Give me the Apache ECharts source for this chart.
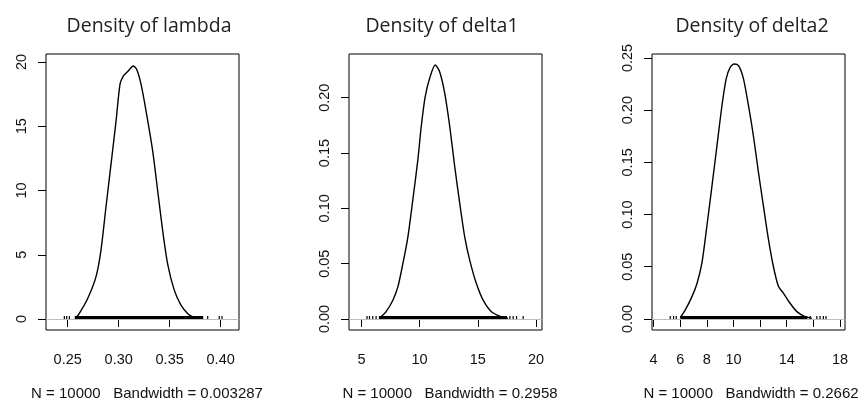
<!DOCTYPE html>
<html>
<head>
<meta charset="utf-8">
<script src="https://cdn.jsdelivr.net/npm/echarts@6/dist/echarts.min.js"></script>
<style>
  html, body { margin: 0; padding: 0; background: #fff; }
  #chart { width: 858px; height: 410px; }
</style>
</head>
<body>
<div id="chart"></div>
<script>
// density curves
const lambdaX = [0.2581, 0.2614, 0.2696, 0.2777, 0.2826, 0.2875, 0.2925, 0.2974, 0.3013, 0.3045, 0.3088, 0.3143, 0.3176, 0.3219, 0.3268, 0.3333, 0.3382, 0.3431, 0.3480, 0.3545, 0.3611, 0.3676, 0.3725, 0.3790];
const lambdaY = [0.1, 0.44, 1.6, 3.28, 5.35, 8.7, 12.07, 15.4, 18.27, 18.9, 19.25, 19.69, 19.43, 18.27, 16.2, 13.1, 10.0, 6.9, 4.3, 2.25, 1.09, 0.44, 0.18, 0.05];

const delta1X = [6.69, 7.12, 7.70, 8.13, 8.56, 8.99, 9.42, 9.85, 10.14, 10.48, 10.86, 11.34, 11.72, 12.16, 12.59, 13.02, 13.45, 13.88, 14.31, 14.88, 15.46, 16.17, 17.03, 17.6];
const delta1Y = [0.002, 0.0066, 0.017, 0.029, 0.050, 0.074, 0.108, 0.144, 0.174, 0.201, 0.2175, 0.2295, 0.2235, 0.204, 0.174, 0.1376, 0.1045, 0.074, 0.053, 0.032, 0.017, 0.0066, 0.002, 0.0006];

const delta2X = [6.0, 6.38, 6.88, 7.26, 7.63, 8.0, 8.38, 8.76, 9.13, 9.45, 9.75, 10.05, 10.38, 10.75, 11.13, 11.5, 11.88, 12.25, 12.63, 13.0, 13.38, 13.75, 14.25, 14.76, 15.38, 15.88];
const delta2Y = [0.0013, 0.0087, 0.0214, 0.034, 0.0536, 0.0888, 0.127, 0.166, 0.204, 0.23, 0.241, 0.2442, 0.2426, 0.23, 0.204, 0.175, 0.140, 0.108, 0.076, 0.050, 0.031, 0.0247, 0.015, 0.007, 0.0022, 0.0007];

// observation marks along zero: [from, to]
const lambdaRug = [[0.2467, 0.2467], [0.249, 0.249], [0.2516, 0.2516], [0.2575, 0.3823], [0.3873, 0.3873], [0.3986, 0.3986], [0.4013, 0.4013]];
const delta1Rug = [[5.48, 5.48], [5.69, 5.69], [5.97, 5.97], [6.26, 6.26], [6.55, 17.47], [17.76, 17.76], [18.04, 18.04], [18.33, 18.33], [18.9, 18.9]];
const delta2Rug = [[5.25, 5.25], [5.5, 5.5], [5.7, 5.7], [6.05, 15.5], [15.76, 15.76], [16.26, 16.26], [16.5, 16.5], [16.75, 16.75], [16.95, 16.95]];

// ticks and labels
const lambdaXTicks = [0.25, 0.30, 0.35, 0.40];
const lambdaYTicks = [0, 5, 10, 15, 20];
const delta1XTicks = [5, 10, 15, 20];
const delta1YTicks = [0, 0.05, 0.10, 0.15, 0.20];
const delta2XTicks = [4, 6, 8, 10, 12, 14, 16, 18];
const delta2XLabels = [4, 6, 8, 10, 14, 18];
const delta2YTicks = [0, 0.05, 0.10, 0.15, 0.20, 0.25];

const titles = ['Density of lambda', 'Density of delta1', 'Density of delta2'];
const subtitles = ['N = 10000   Bandwidth = 0.003287', 'N = 10000   Bandwidth = 0.2958', 'N = 10000   Bandwidth = 0.2662'];

const chart = echarts.init(document.getElementById('chart'), null, { renderer: 'canvas' });

const tickFont = { fontFamily: 'Liberation Sans', fontSize: 14.5, color: '#111' };
const lefts = [46, 349, 652];
const gridW = 193;

function zip(xs, ys) {
    return xs.map((x, i) => [x, ys[i]]);
}

function xAxis(idx, min, max, ticks, labels, fmt) {
    return {
        type: 'value', gridIndex: idx, min: min, max: max,
        splitLine: { show: false },
        axisLine: { show: false },
        axisTick: { show: true, inside: false, length: 8, customValues: ticks, lineStyle: { color: '#000' } },
        axisLabel: Object.assign({ customValues: labels, margin: 22, formatter: fmt }, tickFont)
    };
}

function yAxis(idx, min, max, ticks, fmt) {
    return {
        type: 'value', gridIndex: idx, min: min, max: max,
        splitLine: { show: false },
        axisLine: { show: false },
        axisTick: { show: true, inside: false, length: 8, customValues: ticks, lineStyle: { color: '#000' } },
        axisLabel: Object.assign({ customValues: ticks, margin: 17, rotate: 90, formatter: fmt }, tickFont)
    };
}

function curve(idx, data) {
    return {
        type: 'line', xAxisIndex: idx, yAxisIndex: idx, data: data,
        showSymbol: false, smooth: 0.25, silent: true,
        lineStyle: { color: '#000', width: 1.4 },
        markLine: {
            silent: true, symbol: 'none', label: { show: false },
            lineStyle: { color: '#bdbdbd', width: 1, type: 'solid' },
            data: [{ yAxis: 0 }]
        },
        z: 3
    };
}

function rug(idx, data, h) {
    return {
        type: 'custom', xAxisIndex: idx, yAxisIndex: idx, data: data, silent: true,
        renderItem: function (params, api) {
            const p0 = api.coord([api.value(0), 0]);
            const p1 = api.coord([api.value(1), h]);
            const top = Math.min(p1[1], p0[1] - 3);
            return {
                type: 'rect',
                shape: { x: p0[0] - 0.6, y: top, width: Math.max(p1[0] - p0[0], 0) + 1.2, height: p0[1] - top },
                style: { fill: '#000' }
            };
        },
        z: 4
    };
}

const option = {
    backgroundColor: '#fff',
    animation: false,
    title: titles.map((t, i) => ({
        text: t,
        left: [144, 437, 747][i], top: 11, textAlign: 'center',
        textStyle: { fontFamily: 'Open Sans', fontWeight: 'normal', fontSize: 19.5, color: '#222' }
    })).concat(subtitles.map((t, i) => ({
        text: t,
        left: [142, 445, 746][i], top: 381, textAlign: 'center',
        textStyle: { fontFamily: 'Liberation Sans', fontWeight: 'normal', fontSize: 15, color: '#111' }
    }))),
    grid: lefts.map(l => ({
        left: l, top: 54, width: gridW, height: 276,
        show: true, borderColor: '#000', borderWidth: 1, backgroundColor: 'transparent'
    })),
    xAxis: [
        xAxis(0, 0.2287, 0.418, lambdaXTicks, lambdaXTicks, v => v.toFixed(2)),
        xAxis(1, 3.93, 20.52, delta1XTicks, delta1XTicks, v => String(v)),
        xAxis(2, 3.88, 18.375, delta2XTicks, delta2XLabels, v => String(v))
    ],
    yAxis: [
        yAxis(0, -0.85, 20.62, lambdaYTicks, v => String(v)),
        yAxis(1, -0.00994, 0.2395, delta1YTicks, v => v.toFixed(2)),
        yAxis(2, -0.0106, 0.2538, delta2YTicks, v => v.toFixed(2))
    ],
    series: [
        curve(0, zip(lambdaX, lambdaY)),
        curve(1, zip(delta1X, delta1Y)),
        curve(2, zip(delta2X, delta2Y)),
        rug(0, lambdaRug, 19.69 / 100),
        rug(1, delta1Rug, 0.2295 / 100),
        rug(2, delta2Rug, 0.2442 / 100)
    ]
};

chart.setOption(option);
</script>
</body>
</html>
